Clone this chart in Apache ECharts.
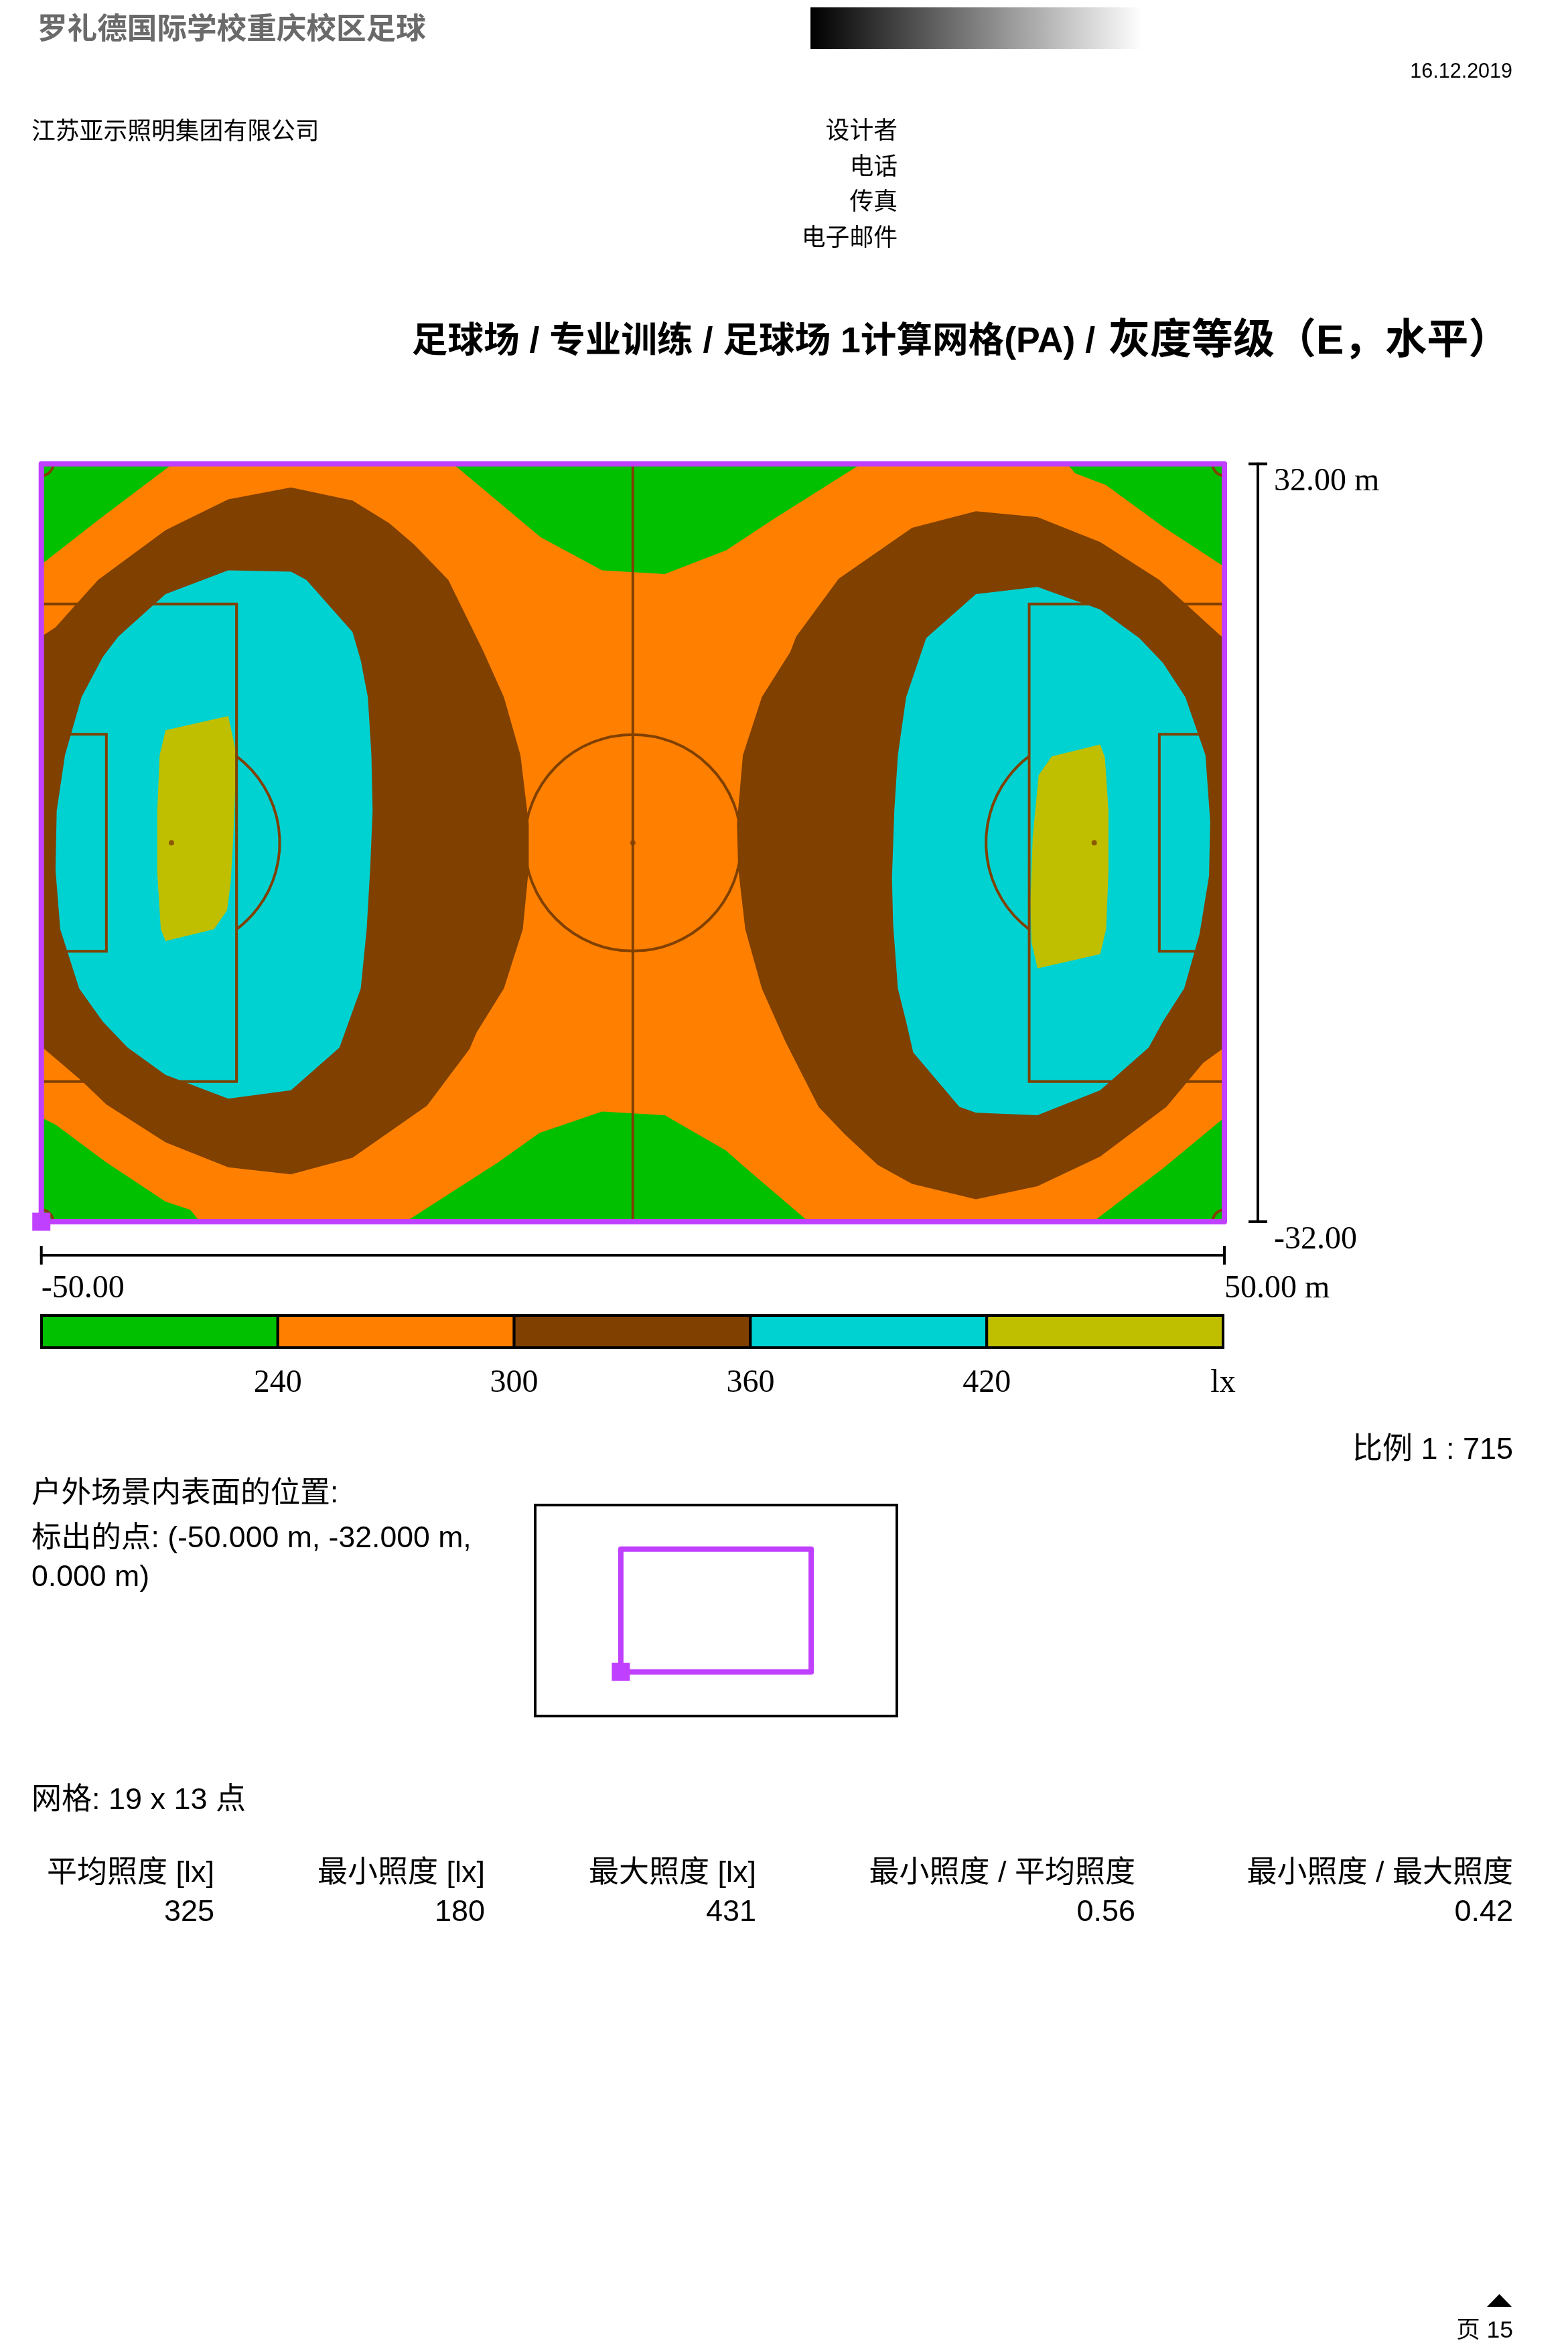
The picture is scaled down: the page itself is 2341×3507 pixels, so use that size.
<!DOCTYPE html>
<html><head><meta charset="utf-8">
<script src="https://cdn.jsdelivr.net/npm/echarts@6/dist/echarts.min.js"></script>
<style>html,body{margin:0;padding:0;background:#fff}#c{width:2341px;height:3507px}</style></head>
<body><div id="c"></div>
<script>
// ---------- data (metres on the pitch, lux) ----------
const pitchOutline = [[-50,32],[50,32],[50,-32],[-50,-32]];
const greenTopLeft = [[-50,32],[-50,23.5],[-45,27.4],[-38.9,32]];
const greenTopMid = [[-15.2,32],[-7.8,25.8],[-2.6,23],[2.7,22.7],[7.9,24.7],[12,27.4],[19.3,32]];
const greenTopRight = [[36.7,32],[37.4,31.2],[40,30.2],[44.8,26.7],[50,23.3],[50,32]];
const greenBottomLeft = [[-50,-23.2],[-48.8,-23.8],[-44.5,-27],[-39.5,-30.3],[-37.4,-31],[-36.6,-32],[-50,-32]];
const greenBottomMid = [[-19.2,-32],[-11.4,-27],[-7.9,-24.5],[-2.6,-22.7],[2.7,-23],[7.9,-26],[9,-27],[14.85,-32]];
const greenBottomRight = [[38.9,-32],[44.8,-27.5],[50,-23.2],[50,-32]];
const brownLeft = [[-50,17.4],[-48.8,18.2],[-45.2,22.2],[-39.5,26.4],[-34.2,29],[-28.9,30],[-23.7,28.9],[-20.6,27],[-18.5,25.2],[-15.6,22.2],[-12.7,16.3],[-10.9,12.3],[-9.5,7.4],[-8.8,1.6],[-8.8,-2.1],[-9.3,-7.3],[-10.9,-12.3],[-13.2,-16],[-13.8,-17.4],[-17.4,-22.2],[-23.7,-26.6],[-28.9,-28],[-34.2,-27.4],[-39.5,-25.3],[-44.5,-22.1],[-46.6,-20.1],[-50,-17.2]];
const brownRight = [[50,17.2],[44.5,22.2],[39.5,25.4],[34.2,27.5],[29,28],[23.6,26.6],[17.4,22.3],[13.8,17.4],[13.3,16.1],[10.9,12.3],[9.3,7.4],[8.8,1.6],[8.9,-2.1],[9.5,-7.3],[10.9,-12.3],[12.9,-16.8],[15.7,-22.3],[17.9,-24.6],[20.7,-27.2],[23.6,-28.8],[29,-30.1],[34.2,-29],[39.5,-26.5],[45.1,-22.3],[48.2,-18.6],[50,-17.3]];
const cyanLeft = [[-34.2,23],[-28.9,22.9],[-27.6,22.2],[-23.7,17.8],[-23,15.4],[-22.4,12.3],[-22.1,7.4],[-22,2.7],[-22.2,-2.1],[-22.5,-7.3],[-23,-12.3],[-24.8,-17.3],[-28.9,-20.9],[-34.2,-21.6],[-39.5,-19.6],[-42.7,-17.3],[-44.8,-15.1],[-46.8,-12.3],[-48.4,-7.3],[-48.8,-2.3],[-48.7,2.7],[-48,7.4],[-46.6,12.3],[-44.8,15.7],[-43.5,17.4],[-39.5,21]];
const cyanRight = [[29,21],[34.2,21.6],[39.5,19.7],[42.8,17.3],[44.8,15.2],[46.7,12.3],[48.4,7.4],[48.8,1.8],[48.7,-2.8],[47.9,-7.7],[46.6,-12.3],[44.8,-15.1],[43.6,-17.3],[39.5,-20.9],[34.2,-23],[29,-22.8],[27.6,-22.3],[23.7,-17.7],[23.1,-15.1],[22.4,-12.3],[22,-6.9],[21.9,-3],[22.1,2.7],[22.4,7.4],[23.1,12.3],[24.8,17.3]];
const yellowLeft = [[-39.5,9.5],[-34.2,10.7],[-33.6,7.9],[-33.6,4.8],[-33.8,0],[-34,-3.4],[-34.3,-5.7],[-35.4,-7.3],[-39.5,-8.3],[-39.9,-7.3],[-40.2,-2.5],[-40.2,2.7],[-40,7.4]];
const yellowRight = [[35.4,7.3],[39.5,8.3],[39.9,7.2],[40.2,2.7],[40.2,-2.5],[40,-7.3],[39.5,-9.4],[34.2,-10.6],[33.7,-8.4],[33.6,-5.1],[33.8,0.5],[34.3,5.7]];

const pitchLines = [
  [[0,32],[0,-32]],
  [[-50,20.16],[-33.5,20.16],[-33.5,-20.16],[-50,-20.16]],
  [[-50,9.16],[-44.5,9.16],[-44.5,-9.16],[-50,-9.16]],
  [[50,20.16],[33.5,20.16],[33.5,-20.16],[50,-20.16]],
  [[50,9.16],[44.5,9.16],[44.5,-9.16],[50,-9.16]]
];
const pitchArcs = [ // cx, cy, r, from°, to°
  [0,0,9.15,0,360],[-39,0,9.15,-53,53],[39,0,9.15,127,233],
  [-50,32,1,0,90],[50,32,1,90,180],[50,-32,1,180,270],[-50,-32,1,270,360]
];
const pitchSpots = [[-39,0],[39,0],[0,0]];
const markedPoint = [[-50,-32]];

const legendBreaks = [180,240,300,360,420,480];
const xExtent = [-50,50];
const yExtent = [-32,32];

const headerTitle = '罗礼德国际学校重庆校区足球';
const reportDate = '16.12.2019';
const company = '江苏亚示照明集团有限公司';
const contactLabels = ['设计者','电话','传真','电子邮件'];
const titleMain = '足球场 / 专业训练 / 足球场 1计算网格(PA) / ';
const titleMode = '灰度等级（E，水平）';
const scaleText = '比例 1 : 715';
const positionLines = ['户外场景内表面的位置:','标出的点: (-50.000 m, -32.000 m,','0.000 m)'];
const gridText = '网格: 19 x 13 点';
const statHeaders = ['平均照度 [lx]','最小照度 [lx]','最大照度 [lx]','最小照度 / 平均照度','最小照度 / 最大照度'];
const statValues = ['325','180','431','0.56','0.42'];
const pageText = '页 15';

// ---------- styles ----------
const GREEN='#00C000',ORANGE='#FF8000',BROWN='#804000',CYAN='#00D2D2',YELLOW='#BFBF00',PURPLE='#C040FF';
const legendColors=[GREEN,ORANGE,BROWN,CYAN,YELLOW];
const bands=[
 [pitchOutline,ORANGE],[greenTopLeft,GREEN],[greenTopMid,GREEN],[greenTopRight,GREEN],
 [greenBottomLeft,GREEN],[greenBottomMid,GREEN],[greenBottomRight,GREEN],
 [brownLeft,BROWN],[brownRight,BROWN],[cyanLeft,CYAN],[cyanRight,CYAN],[yellowLeft,YELLOW],[yellowRight,YELLOW]];
const SANS='"Liberation Sans","Noto Sans CJK SC",sans-serif';
const SERIF='"Liberation Serif",serif';

const txt=(text,x,y,size,align,opt)=>({type:'text',x,y,silent:true,z:50,
  style:Object.assign({text,font:`${(opt&&opt.weight)||'normal'} ${size}px ${SANS}`,
  textAlign:align,textVerticalAlign:'middle',fill:(opt&&opt.fill)||'#000'})});

const rowsY=[197,251,303,357];
const statX=[320,724,1129,1695,2259];
const graphics=[
 txt(headerTitle,56,46,44.6,'left',{weight:'bold',fill:'#6a6a6a'}),
 {type:'rect',z:50,shape:{x:1210,y:11,width:496,height:62},style:{fill:new echarts.graphic.LinearGradient(0,0,1,0,[{offset:0,color:'#000'},{offset:1,color:'#fff'}])}},
 txt(reportDate,2258,108,30.5,'right'),
 txt(company,47,198,35.8,'left'),
 ...contactLabels.map((t,i)=>txt(t,1340,rowsY[i],35.8,'right')),
 txt(titleMain,1650,511,53.6,'right',{weight:'bold'}),
 txt(titleMode,1655,511,62,'left',{weight:'bold'}),
 txt(scaleText,2259,2166,45,'right'),
 txt(positionLines[0],47,2231,44.6,'left'),
 txt(positionLines[1],47,2298,44.6,'left'),
 txt(positionLines[2],47,2356,44.6,'left'),
 txt(gridText,47,2689,45,'left'),
 ...statHeaders.map((t,i)=>txt(t,statX[i],2798,45,'right')),
 ...statValues.map((t,i)=>txt(t,statX[i],2856,45,'right')),
 txt(pageText,2259,3480,35.5,'right'),
 {type:'polygon',z:50,shape:{points:[[2220,3444],[2257,3444],[2238.5,3425]]},style:{fill:'#000'}}
];

// ---------- renderers ----------
const renderBand=(p,api)=>{const b=bands[api.value(0)];
  return {type:'polygon',shape:{points:b[0].map(v=>api.coord(v))},style:{fill:b[1]}};};
const renderLine=(p,api)=>({type:'polyline',shape:{points:pitchLines[api.value(0)].map(v=>api.coord(v))},
  style:{fill:null,stroke:BROWN,lineWidth:4}});
const renderArc=(p,api)=>{const a=pitchArcs[api.value(0)],c=api.coord([a[0],a[1]]),r=api.size([a[2],0])[0];
  return {type:'arc',shape:{cx:c[0],cy:c[1],r,startAngle:a[3]*Math.PI/180,endAngle:a[4]*Math.PI/180,clockwise:true},
  style:{fill:null,stroke:BROWN,lineWidth:4}};};
const frameRender=w=>(p,api)=>({type:'polygon',shape:{points:pitchOutline.map(v=>api.coord(v))},
  style:{fill:null,stroke:PURPLE,lineWidth:w,lineJoin:'round'}});
const renderLegend=(p,api)=>{const i=api.value(0),a=api.coord([legendBreaks[i],1]),b=api.coord([legendBreaks[i+1],0]);
  return {type:'rect',shape:{x:a[0],y:a[1],width:b[0]-a[0],height:b[1]-a[1]},
  style:{fill:legendColors[i],stroke:'#000',lineWidth:4}};};
const idx=a=>a.map((_,i)=>[i]);
const custom=(renderItem,data,x,y,z)=>({type:'custom',renderItem,data,xAxisIndex:x,yAxisIndex:y,z,clip:false,silent:true,animation:false,encode:{x:[],y:[]}});

const axisFont={fontFamily:SERIF,fontSize:48,color:'#000'};
const option={
 backgroundColor:'#fff',animation:false,
 grid:[
  {left:61.7,top:692.5,width:1766.3,height:1131.5,containLabel:false},
  {left:62,top:1964,width:1764,height:48},
  {left:799,top:2247,width:540,height:315,show:true,borderColor:'#000',borderWidth:4,backgroundColor:'#fff'}
 ],
 xAxis:[
  {gridIndex:0,type:'value',min:xExtent[0],max:xExtent[1],position:'bottom',offset:50,splitLine:{show:false},
   axisLine:{show:true,onZero:false,symbol:['rect','rect'],symbolSize:[28,4],lineStyle:{color:'#000',width:4}},
   axisTick:{show:false},
   axisLabel:Object.assign({show:true,customValues:xExtent,margin:26,align:'left',formatter:v=>v>0?v.toFixed(2)+' m':v.toFixed(2)},axisFont)},
  {gridIndex:1,type:'value',min:legendBreaks[0],max:legendBreaks[5],interval:60,splitLine:{show:false},
   axisLine:{show:false},axisTick:{show:false},
   axisLabel:Object.assign({show:true,margin:29,showMinLabel:false,showMaxLabel:true,formatter:v=>v===480?'lx':String(v)},axisFont)},
  {gridIndex:2,type:'value',min:-95,max:95,show:false}
 ],
 yAxis:[
  {gridIndex:0,type:'value',min:yExtent[0],max:yExtent[1],position:'right',offset:50,splitLine:{show:false},
   axisLine:{show:true,onZero:false,symbol:['rect','rect'],symbolSize:[28,4],lineStyle:{color:'#000',width:4}},
   axisTick:{show:false},
   axisLabel:Object.assign({show:true,customValues:yExtent,margin:24,align:'left',verticalAlign:'top',padding:[3,0,0,0],formatter:v=>v>0?v.toFixed(2)+' m':v.toFixed(2)},axisFont)},
  {gridIndex:1,type:'value',min:0,max:1,show:false},
  {gridIndex:2,type:'value',min:-55,max:55,show:false}
 ],
 graphic:{elements:graphics},
 series:[
  custom(renderBand,idx(bands),0,0,1),
  custom(renderLine,idx(pitchLines),0,0,2),
  custom(renderArc,idx(pitchArcs),0,0,3),
  {type:'scatter',data:pitchSpots,xAxisIndex:0,yAxisIndex:0,symbol:'circle',symbolSize:8,itemStyle:{color:BROWN},z:4,silent:true},
  custom(frameRender(8),[[0]],0,0,5),
  {type:'scatter',data:markedPoint,xAxisIndex:0,yAxisIndex:0,symbol:'rect',symbolSize:27,itemStyle:{color:PURPLE,opacity:1},z:6,silent:true,clip:false},
  custom(renderLegend,idx(legendColors),1,1,1),
  custom(frameRender(8),[[0]],2,2,5),
  {type:'scatter',data:markedPoint,xAxisIndex:2,yAxisIndex:2,symbol:'rect',symbolSize:27,itemStyle:{color:PURPLE,opacity:1},z:6,silent:true,clip:false}
 ]
};
echarts.init(document.getElementById('c'),null,{renderer:'canvas',width:2341,height:3507}).setOption(option);
</script></body></html>
